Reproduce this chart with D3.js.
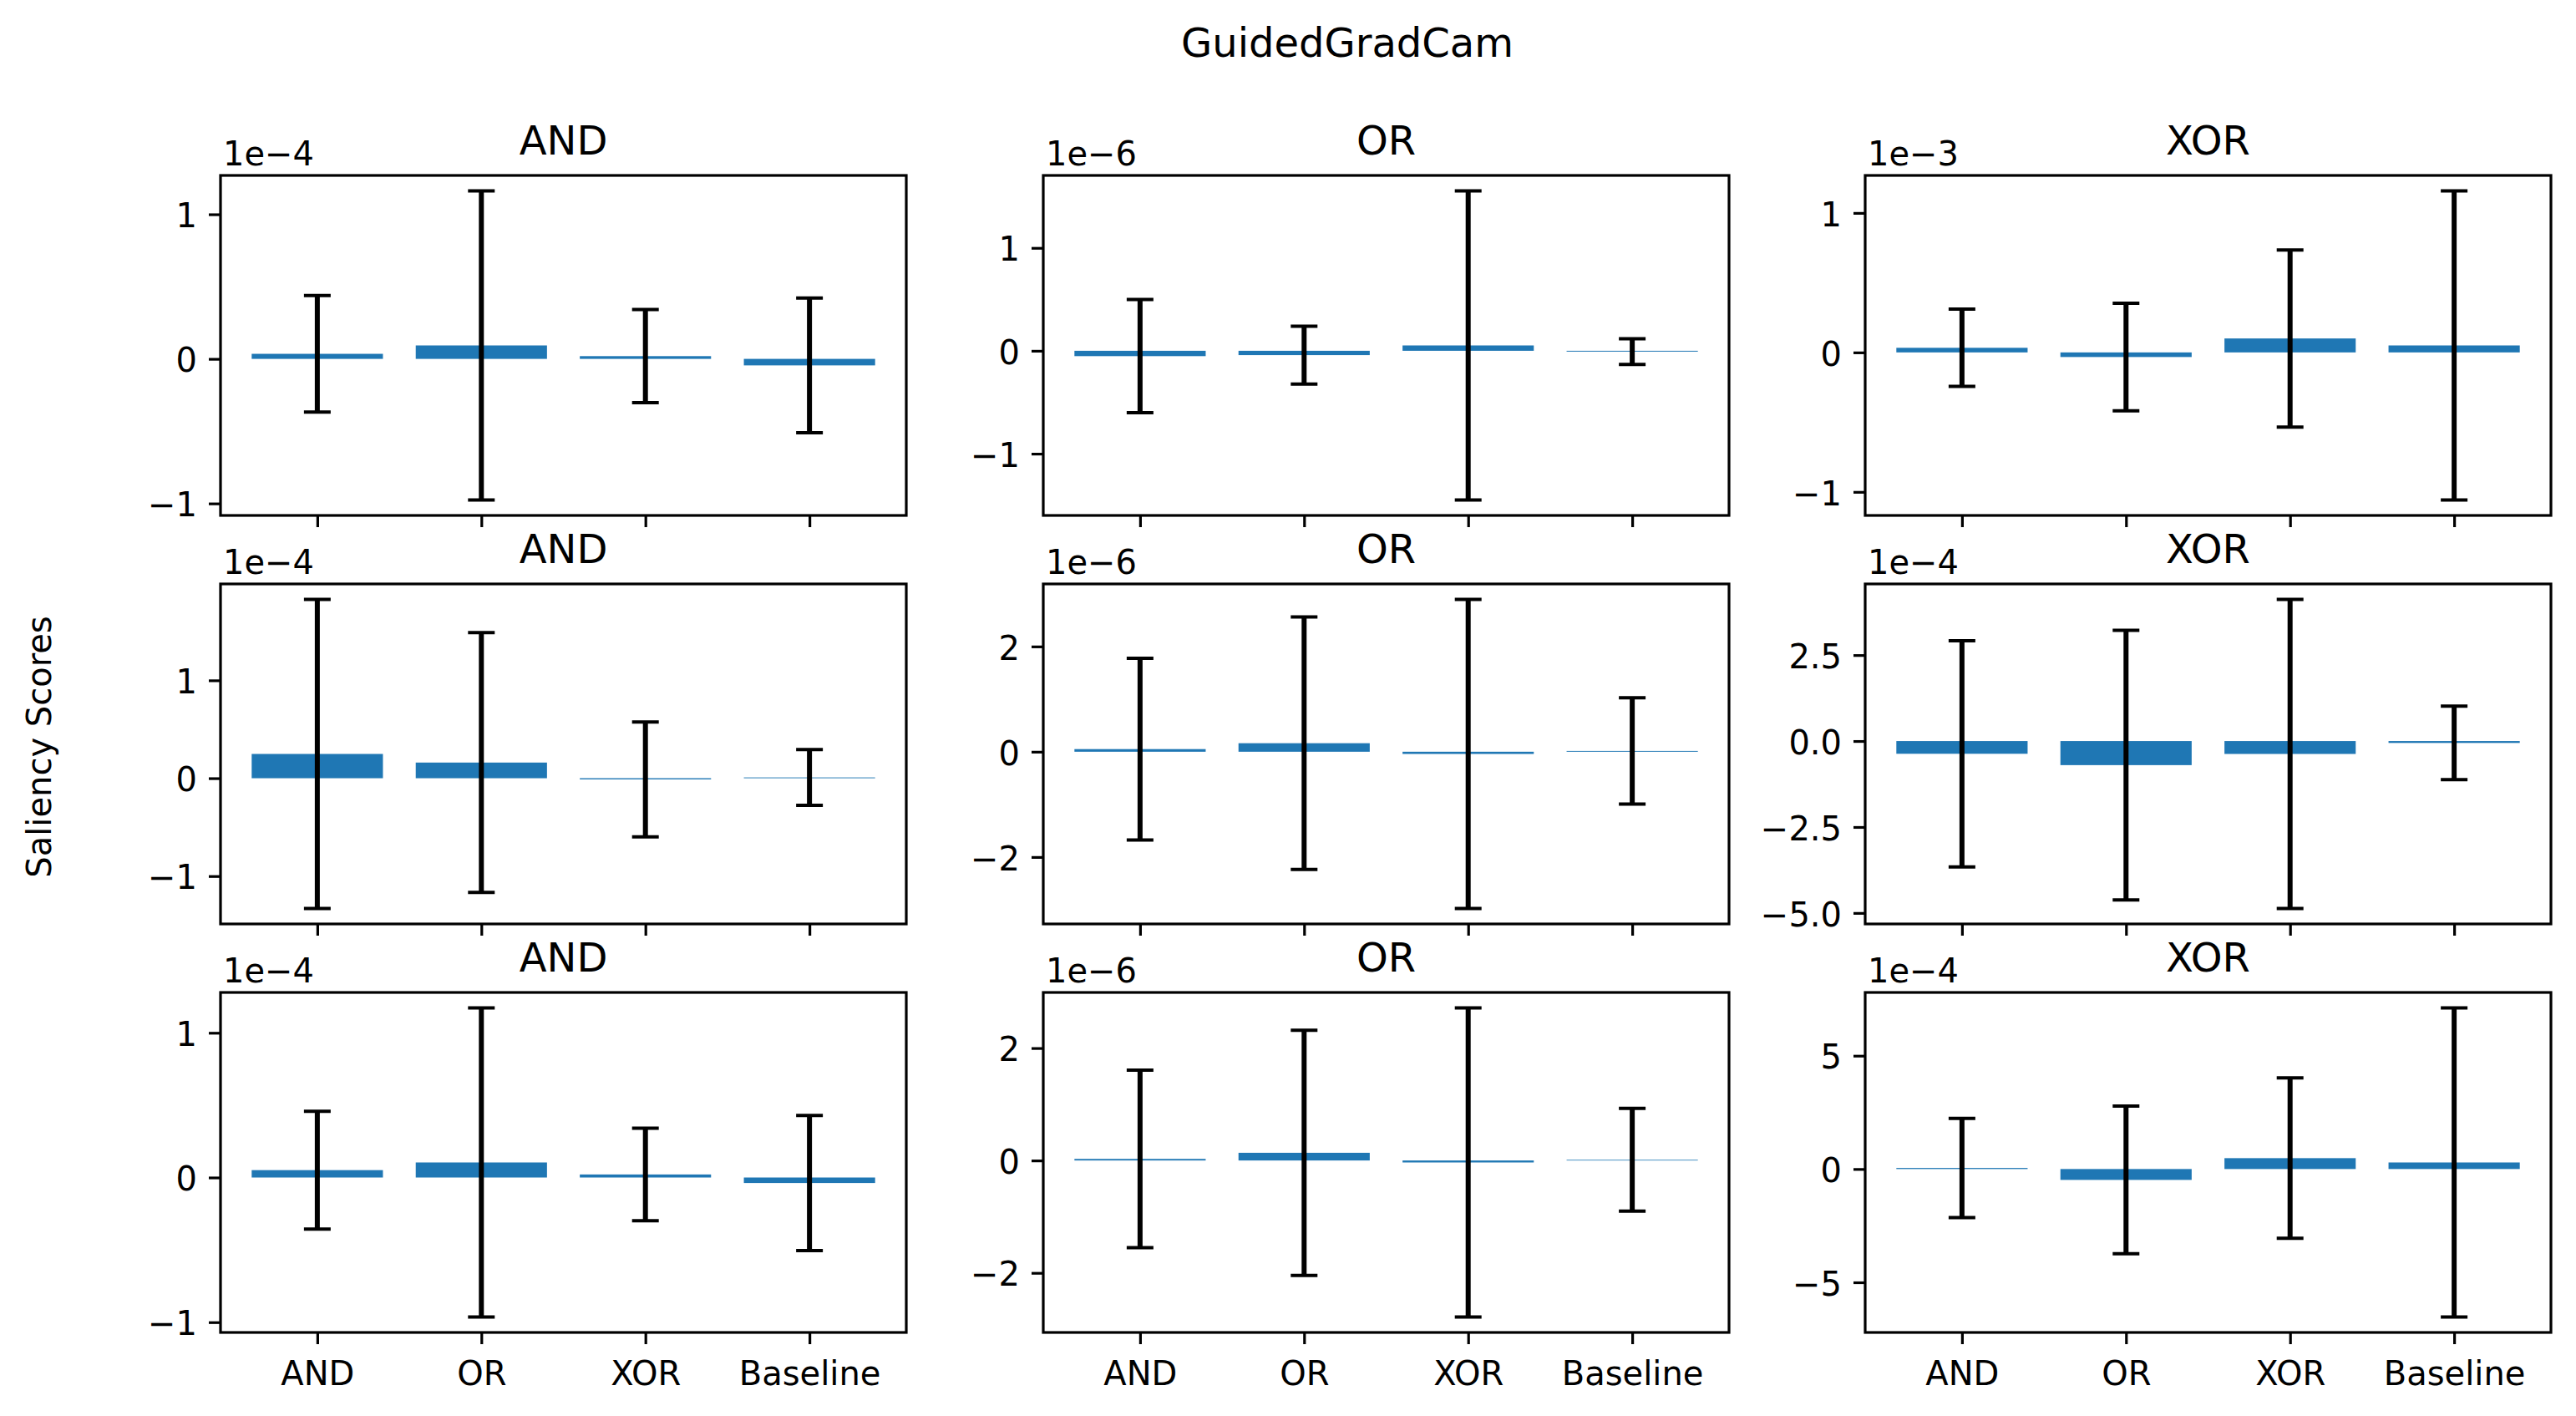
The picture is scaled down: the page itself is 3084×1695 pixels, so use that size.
<!DOCTYPE html>
<html>
<head>
<meta charset="utf-8">
<script src="https://cdn.jsdelivr.net/npm/d3@7"></script>
<style>
	body { margin: 0; background: #fff; }
	svg { display: block; }
	text { font-family: "DejaVu Sans", sans-serif; fill: #000; }
</style>
</head>
<body>
<svg id="chart" width="3084" height="1695"></svg>
<script>
// data (values shown in units of 10^exponent, as on each panel)
const methods = [ 'AND', 'OR', 'XOR', 'Baseline' ];
const panelTitles = [ 'AND', 'OR', 'XOR' ];
const exponents = [
	[ -4, -6, -3 ],
	[ -4, -6, -4 ],
	[ -4, -6, -4 ]
];
const meanScores = [
	[ [ 0.035, 0.093, 0.019, -0.045 ], [ -0.052, -0.042, 0.052, -0.008 ], [ 0.033, -0.033, 0.100, 0.050 ] ],
	[ [ 0.248, 0.160, -0.012, 0.008 ], [ 0.050, 0.162, -0.042, 0.015 ], [ -0.370, -0.700, -0.375, -0.055 ] ],
	[ [ 0.051, 0.104, 0.021, -0.038 ], [ 0.028, 0.137, -0.035, 0.012 ], [ 0.047, -0.480, 0.480, 0.290 ] ]
];
const stdScores = [
	[ [ 0.403, 1.069, 0.322, 0.466 ], [ 0.550, 0.281, 1.502, 0.125 ], [ 0.277, 0.385, 0.635, 1.108 ] ],
	[ [ 1.579, 1.327, 0.587, 0.285 ], [ 1.725, 2.397, 2.936, 1.010 ], [ 3.290, 3.920, 4.495, 1.070 ] ],
	[ [ 0.407, 1.068, 0.320, 0.467 ], [ 1.579, 2.182, 2.750, 0.914 ], [ 2.190, 3.260, 3.540, 6.820 ] ]
];
const yTickValues = [
	[ [ -1, 0, 1 ], [ -1, 0, 1 ], [ -1, 0, 1 ] ],
	[ [ -1, 0, 1 ], [ -2, 0, 2 ], [ -5, -2.5, 0, 2.5 ] ],
	[ [ -1, 0, 1 ], [ -2, 0, 2 ], [ -5, 0, 5 ] ]
];
const yTickFormats = [
	[ 'd', 'd', 'd' ],
	[ 'd', 'd', '.1f' ],
	[ 'd', 'd', 'd' ]
];

const SaliencyGrid = {
	lefts: [ 264, 1249, 2233 ],
	tops: [ 210, 699, 1188 ],
	width: 821,
	height: 407,
	barWidth: 0.8,
	barColor: '#1f77b4',
	tickLength: 14,
	tickPad: 14,

	draw: function() {
		const self = this;
		let svg = d3.select('#chart');

		svg.append('text')
			.attr('x', 1613)
			.attr('y', 68)
			.attr('text-anchor', 'middle')
			.style('font-size', '48px')
			.text('GuidedGradCam');

		svg.append('text')
			.attr('transform', 'translate(61,894) rotate(-90)')
			.attr('text-anchor', 'middle')
			.style('font-size', '40px')
			.text('Saliency Scores');

		for (let r = 0; r < 3; r++)
			for (let c = 0; c < 3; c++)
				self.drawPanel(svg, r, c);
	},
	drawPanel: function(svg, r, c) {
		const self = this;
		let means = meanScores[r][c];
		let stds = stdScores[r][c];
		let isBottomRow = (r == 2);
		let g = svg.append('g')
			.attr('transform', 'translate(' + self.lefts[c] + ',' + self.tops[r] + ')');

		// x scale like matplotlib: bar extents plus 5% margins
		let xLo = -self.barWidth / 2;
		let xHi = methods.length - 1 + self.barWidth / 2;
		let xMargin = (xHi - xLo) * 0.05;
		let xScale = d3.scaleLinear()
			.domain([ xLo - xMargin, xHi + xMargin ])
			.range([ 0, self.width ]);

		let yLo = Math.min(0, d3.min(means, (m, i) => m - stds[i]));
		let yHi = Math.max(0, d3.max(means, (m, i) => m + stds[i]));
		let yMargin = (yHi - yLo) * 0.05;
		let yScale = d3.scaleLinear()
			.domain([ yLo - yMargin, yHi + yMargin ])
			.range([ self.height, 0 ]);

		g.selectAll('rect.bar')
			.data(means)
			.enter()
			.append('rect')
			.attr('class', 'bar')
			.attr('x', (d, i) => xScale(i - self.barWidth / 2))
			.attr('width', xScale(self.barWidth) - xScale(0))
			.attr('y', d => yScale(Math.max(0, d)))
			.attr('height', d => Math.abs(yScale(d) - yScale(0)))
			.style('fill', self.barColor);

		let err = g.selectAll('g.err')
			.data(means)
			.enter()
			.append('g')
			.attr('class', 'err');

		err.append('line')
			.attr('x1', (d, i) => xScale(i))
			.attr('x2', (d, i) => xScale(i))
			.attr('y1', (d, i) => yScale(d + stds[i]))
			.attr('y2', (d, i) => yScale(d - stds[i]))
			.style('stroke', '#000')
			.style('stroke-width', 6);

		[ 1, -1 ].forEach(function(sign) {
			err.append('line')
				.attr('x1', (d, i) => xScale(i) - 16)
				.attr('x2', (d, i) => xScale(i) + 16)
				.attr('y1', (d, i) => yScale(d + sign * stds[i]))
				.attr('y2', (d, i) => yScale(d + sign * stds[i]))
				.style('stroke', '#000')
				.style('stroke-width', 4);
		});

		// y axis
		let yAxis = d3.axisLeft(yScale)
			.tickValues(yTickValues[r][c])
			.tickFormat(d3.format(yTickFormats[r][c]))
			.tickSizeOuter(0)
			.tickSizeInner(self.tickLength)
			.tickPadding(self.tickPad);
		let yAxisG = g.append('g').call(yAxis);

		// x axis
		let xAxis = d3.axisBottom(xScale)
			.tickValues(d3.range(methods.length))
			.tickFormat(i => isBottomRow ? methods[i] : '')
			.tickSizeOuter(0)
			.tickSizeInner(self.tickLength)
			.tickPadding(self.tickPad);
		let xAxisG = g.append('g')
			.attr('transform', 'translate(0,' + self.height + ')')
			.call(xAxis);

		[ yAxisG, xAxisG ].forEach(function(axisG) {
			axisG.select('.domain').remove();
			axisG.selectAll('.tick line')
				.style('stroke', '#000')
				.style('stroke-width', 3.2);
			axisG.selectAll('.tick text')
				.style('font-family', '"DejaVu Sans", sans-serif')
				.style('font-size', '40px')
				.style('fill', '#000');
		});
		yAxisG.selectAll('.tick text')
			.attr('dy', '0.38em');
		xAxisG.selectAll('.tick text')
			.attr('dy', null)
			.attr('y', 63);

		// frame
		g.append('rect')
			.attr('x', 0)
			.attr('y', 0)
			.attr('width', self.width)
			.attr('height', self.height)
			.style('fill', 'none')
			.style('stroke', '#000')
			.style('stroke-width', 3.2);

		g.append('text')
			.attr('x', self.width / 2)
			.attr('y', -25)
			.attr('text-anchor', 'middle')
			.style('font-size', '48px')
			.text(panelTitles[c]);

		g.append('text')
			.attr('x', 3)
			.attr('y', -12)
			.style('font-size', '40px')
			.text('1e\u2212' + Math.abs(exponents[r][c]));
	}
};

SaliencyGrid.draw();
</script>
</body>
</html>
